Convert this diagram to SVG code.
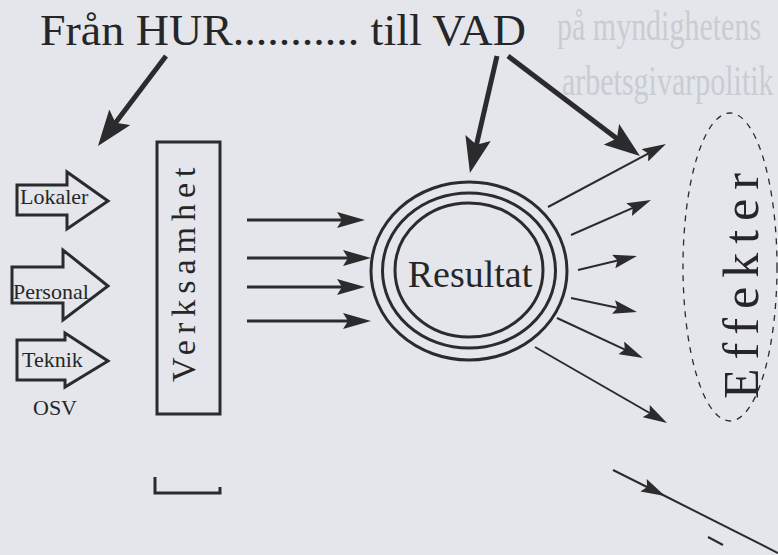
<svg xmlns="http://www.w3.org/2000/svg" width="778" height="555" viewBox="0 0 778 555">
  <style>
    .t { font-family: "Liberation Serif", "Times New Roman", serif; fill: #262628; }
    .ghost { font-family: "Liberation Serif", "Times New Roman", serif; fill: #c9ccd3; font-size: 30px; }
    .ln { fill: none; stroke: #2b2b2d; stroke-linecap: butt; }
    .thick { stroke-width: 5; }
    .thin { stroke-width: 2; }
    .mid { stroke-width: 3; }
    .shape { fill: none; stroke: #2b2b2d; stroke-width: 3; }
  </style>
  <defs>
    <marker id="hThick" markerUnits="userSpaceOnUse" markerWidth="38" markerHeight="26" refX="26" refY="13" orient="auto">
      <path d="M0,0 L36,13 L0,26 L7,13 Z" fill="#2b2b2d"/>
    </marker>
    <marker id="hIn" markerUnits="userSpaceOnUse" markerWidth="30" markerHeight="16" refX="20" refY="8" orient="auto">
      <path d="M0,0 L28,8 L0,16 L5,8 Z" fill="#2b2b2d"/>
    </marker>
    <marker id="hThin" markerUnits="userSpaceOnUse" markerWidth="26" markerHeight="14" refX="16" refY="7" orient="auto">
      <path d="M0,0 L24,7 L0,14 L4,7 Z" fill="#2b2b2d"/>
    </marker>
    <marker id="hThinMid" markerUnits="userSpaceOnUse" markerWidth="26" markerHeight="14" refX="24" refY="7" orient="auto">
      <path d="M0,0 L24,7 L0,14 L4,7 Z" fill="#2b2b2d"/>
    </marker>
  </defs>

  <rect x="0" y="0" width="778" height="555" fill="#e4e6eb"/>

  <g id="background-text">
    <text class="ghost" transform="translate(557,40) scale(1,1.4)">på myndighetens</text>
    <text class="ghost" transform="translate(562,95) scale(1,1.4)">arbetsgivarpolitik</text>
  </g>

  <g id="title">
    <text class="t" x="40" y="45" font-size="45" textLength="486" lengthAdjust="spacingAndGlyphs">Från HUR........... till VAD</text>
  </g>

  <g id="lokaler">
    <path class="shape" d="M17,185 H67 V172 L108,201 L67,229 V215 H17 Z"/>
    <text class="t" x="20" y="204" font-size="22">Lokaler</text>
  </g>
  <g id="personal">
    <path class="shape" d="M12,267 H63 V250 L108,286 L63,320 V303 H12 Z"/>
    <text class="t" x="13" y="299" font-size="22">Personal</text>
  </g>
  <g id="teknik">
    <path class="shape" d="M17,340 H65 V333 L108,361 L65,387 V380 H17 Z"/>
    <text class="t" x="22" y="367" font-size="22">Teknik</text>
  </g>
  <g id="osv">
    <text class="t" x="33" y="415" font-size="22">OSV</text>
  </g>

  <g id="verksamhet">
    <rect class="shape" x="157" y="142" width="63" height="272"/>
    <text class="t" transform="translate(195,382) rotate(-90)" x="0" y="0" font-size="34" letter-spacing="6">Verksamhet</text>
  </g>
  <g id="bracket">
    <path class="shape" d="M155,477 V493 H220 V487"/>
  </g>

  <g id="resultat">
    <ellipse class="shape" cx="469" cy="271" rx="98" ry="89"/>
    <ellipse class="shape" cx="469" cy="270.5" rx="86.5" ry="77.5"/>
    <ellipse class="shape" cx="469" cy="270" rx="74" ry="67"/>
    <text class="t" x="470" y="287" font-size="38" text-anchor="middle">Resultat</text>
  </g>

  <g id="effekter">
    <ellipse cx="730" cy="267" rx="47" ry="154" fill="none" stroke="#2b2b2d" stroke-width="1.3" stroke-dasharray="6 6"/>
    <text class="t" transform="translate(758,399) rotate(-90)" x="0" y="0" font-size="50" letter-spacing="9">Effekter</text>
  </g>

  <g id="connectors">
    <path class="ln thick" d="M166,56 L104,138" marker-end="url(#hThick)"/>
    <path class="ln thick" d="M497,56 L472.2,163.3" marker-end="url(#hThick)"/>
    <path class="ln thick" d="M508,56 L632,150" marker-end="url(#hThick)"/>
    <path class="ln mid" d="M247,220 H357" marker-end="url(#hIn)"/>
    <path class="ln mid" d="M247,258 H363" marker-end="url(#hIn)"/>
    <path class="ln mid" d="M247,287 H357" marker-end="url(#hIn)"/>
    <path class="ln mid" d="M247,321 H363" marker-end="url(#hIn)"/>
    <path class="ln thin" d="M548,207 L658.9,147.8" marker-end="url(#hThin)"/>
    <path class="ln thin" d="M571,235 L643.7,203.2" marker-end="url(#hThin)"/>
    <path class="ln thin" d="M578,270 L629.2,257.8" marker-end="url(#hThin)"/>
    <path class="ln thin" d="M571,298 L629.2,310.3" marker-end="url(#hThin)"/>
    <path class="ln thin" d="M557,318 L635.7,354.6" marker-end="url(#hThin)"/>
    <path class="ln thin" d="M535,347 L660.1,419" marker-end="url(#hThin)"/>
    <path class="ln thin" d="M613,470 L665,496 L778,553" marker-mid="url(#hThinMid)"/>
    <path class="ln thin" d="M708,537 L723,545"/>
  </g>
</svg>
